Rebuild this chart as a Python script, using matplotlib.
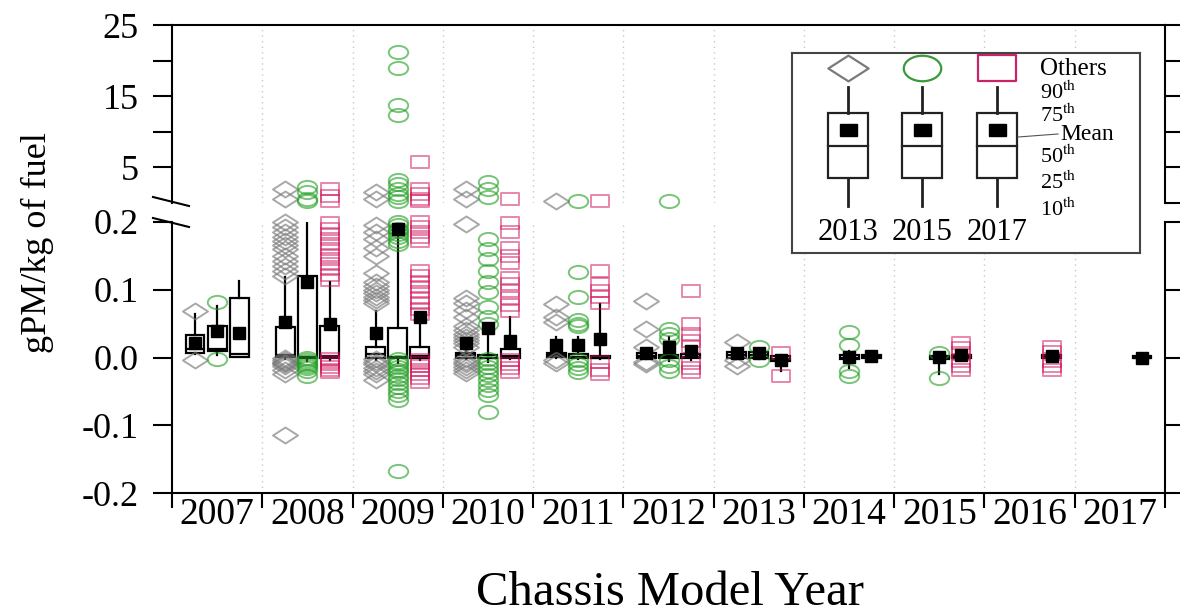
import numpy as np
import matplotlib
matplotlib.use('Agg')
import matplotlib.pyplot as plt
from matplotlib.path import Path
from matplotlib.transforms import Affine2D
from matplotlib.patches import Rectangle
from matplotlib.lines import Line2D

plt.rcParams['font.family'] = ['Liberation Serif', 'DejaVu Serif']
plt.rcParams['mathtext.fontset'] = 'stix'

# ---- data ----
years = [2007, 2008, 2009, 2010, 2011, 2012, 2013, 2014, 2015, 2016, 2017]

# test year 2013 (grey diamonds)
g13_mean = [0.022, 0.052, 0.036, 0.022, 0.019, 0.007, 0.007, None, None, None, None]
g13_p10 = [0.005, -0.002, -0.003, -0.002, 0.000, -0.002, -0.002, None, None, None, None]
g13_p25 = [0.006, 0.001, 0.000, 0.000, 0.001, 0.000, 0.000, None, None, None, None]
g13_p50 = [0.012, 0.003, 0.005, 0.003, 0.003, 0.002, 0.003, None, None, None, None]
g13_p75 = [0.033, 0.045, 0.015, 0.007, 0.007, 0.006, 0.008, None, None, None, None]
g13_p90 = [0.064, 0.119, 0.068, 0.020, 0.030, 0.012, 0.012, None, None, None, None]
g13_out = [
    [0.068, -0.003],
    [2.0, 0.6, 0.200, 0.192, 0.185, 0.178, 0.172, 0.166, 0.160, 0.150, 0.142, 0.135,
     0.128, 0.120, -0.001, -0.004, -0.006, -0.008, -0.010, -0.013, -0.018, -0.025, -0.114],
    [1.5, 0.5, 0.195, 0.185, 0.175, 0.162, 0.150, 0.125, 0.112, 0.105, 0.100, 0.095,
     0.090, 0.085, 0.080, -0.002, -0.006, -0.010, -0.015, -0.020, -0.025, -0.033],
    [1.9, 0.6, 0.197, 0.088, 0.080, 0.070, 0.060, 0.046, 0.040, 0.035, 0.030, 0.026,
     0.021, 0.016, -0.002, -0.006, -0.010, -0.014, -0.018, -0.023],
    [0.25, 0.079, 0.060, 0.052, -0.003, -0.008],
    [0.083, 0.042, 0.016, -0.006, -0.010],
    [0.023, -0.003, -0.013],
    [], [], [], [],
]

# test year 2015 (green circles)
g15_mean = [0.039, 0.111, 0.190, 0.044, 0.018, 0.016, 0.007, 0.001, 0.001, None, None]
g15_p10 = [0.004, -0.005, -0.008, -0.006, -0.002, -0.005, -0.002, -0.015, -0.025, None, None]
g15_p25 = [0.010, 0.000, 0.000, 0.000, 0.000, 0.000, 0.000, -0.002, -0.002, None, None]
g15_p50 = [0.012, 0.001, 0.001, 0.000, 0.001, 0.001, 0.003, 0.000, 0.000, None, None]
g15_p75 = [0.046, 0.120, 0.043, 0.003, 0.005, 0.004, 0.008, 0.003, 0.002, None, None]
g15_p90 = [0.076, 0.240, 0.185, 0.050, 0.030, 0.030, 0.012, 0.010, 0.005, None, None]
g15_out = [
    [0.082, -0.002],
    [2.3, 1.5, 0.6, 0.25, 0.000, -0.003, -0.006, -0.009, -0.012, -0.016, -0.020, -0.028],
    [21.2, 19.0, 13.8, 12.4, 3.3, 2.6, 1.9, 1.3, 0.8, 0.25, 0.200, 0.195, 0.190, 0.186,
     0.182, 0.178, 0.172, 0.168, -0.002, -0.006, -0.010, -0.014, -0.018, -0.022, -0.027,
     -0.032, -0.038, -0.044, -0.050, -0.056, -0.062, -0.168],
    [3.0, 1.9, 0.8, 0.175, 0.160, 0.146, 0.128, 0.111, 0.097, 0.074, 0.060, 0.049,
     -0.002, -0.008, -0.014, -0.020, -0.026, -0.033, -0.040, -0.048, -0.056, -0.080],
    [0.25, 0.126, 0.090, 0.056, 0.050, 0.046, -0.004, -0.010, -0.016, -0.022],
    [0.25, 0.042, 0.034, 0.027, -0.004, -0.012, -0.020],
    [0.016, -0.003],
    [0.037, 0.019, -0.020, -0.028],
    [0.007, -0.030],
    [], [],
]

# test year 2017 (red squares)
g17_mean = [0.036, 0.050, 0.060, 0.024, 0.027, 0.009, -0.003, 0.002, 0.003, 0.002, 0.000]
g17_p10 = [0.001, -0.003, -0.004, -0.002, -0.002, -0.003, -0.020, -0.001, -0.002, -0.002, -0.001]
g17_p25 = [0.001, 0.000, 0.000, 0.000, -0.001, -0.001, -0.005, -0.001, -0.001, -0.001, -0.001]
g17_p50 = [0.005, 0.002, 0.002, 0.002, 0.000, 0.001, -0.002, 0.001, 0.001, 0.001, 0.000]
g17_p75 = [0.088, 0.046, 0.015, 0.013, 0.002, 0.005, 0.002, 0.003, 0.003, 0.003, 0.002]
g17_p90 = [0.113, 0.111, 0.060, 0.060, 0.079, 0.015, 0.004, 0.004, 0.005, 0.004, 0.002]
g17_out = [
    [],
    [1.9, 1.0, 0.3, 0.198, 0.190, 0.182, 0.175, 0.168, 0.160, 0.152, 0.145, 0.138,
     0.130, 0.122, 0.115, -0.002, -0.006, -0.010, -0.014, -0.018, -0.021],
    [5.7, 2.0, 1.2, 0.6, 0.25, 0.200, 0.192, 0.185, 0.178, 0.172, 0.128, 0.120, 0.112,
     0.104, 0.096, 0.088, 0.080, 0.072, 0.064, -0.003, -0.008, -0.013, -0.018, -0.024,
     -0.030, -0.036],
    [0.5, 0.198, 0.185, 0.162, 0.150, 0.140, 0.118, 0.108, 0.098, 0.088, 0.078, 0.068,
     -0.004, -0.010, -0.016, -0.022],
    [0.25, 0.128, 0.108, 0.098, 0.090, 0.080, -0.006, -0.018, -0.025],
    [0.098, 0.049, 0.035, 0.025, 0.015, -0.008, -0.015, -0.022],
    [0.006, -0.028],
    [],
    [0.022, 0.014, 0.006, -0.005, -0.012, -0.018],
    [0.015, 0.008, -0.005, -0.012, -0.018],
    [],
]

# ---- marker shapes (flattened like the original) ----
diamond = Path([(0, 0.64), (1, 0), (0, -0.64), (-1, 0), (0, 0.64)],
               [Path.MOVETO, Path.LINETO, Path.LINETO, Path.LINETO, Path.CLOSEPOLY])
oval = Affine2D().scale(1, 0.68).transform_path(Path.unit_circle())
rect = Path([(-1, -0.67), (1, -0.67), (1, 0.67), (-1, 0.67), (-1, -0.67)],
            [Path.MOVETO, Path.LINETO, Path.LINETO, Path.LINETO, Path.CLOSEPOLY])

grey = '#7a7a7a'
green = '#1f9e1f'
red = '#d0105a'

series = [
    (-0.245, diamond, grey, 18, 0.65, g13_mean, g13_p10, g13_p25, g13_p50, g13_p75, g13_p90, g13_out),
    (0.0, oval, green, 14, 0.6, g15_mean, g15_p10, g15_p25, g15_p50, g15_p75, g15_p90, g15_out),
    (0.245, rect, red, 13, 0.5, g17_mean, g17_p10, g17_p25, g17_p50, g17_p75, g17_p90, g17_out),
]

W, H = 1180, 614
fig = plt.figure(figsize=(W / 100, H / 100), dpi=100)


def fx(px):
    return px / W


def fy(py):
    return 1 - py / H


L, R = 172, 1165
ax_hi = fig.add_axes([fx(L), fy(203), fx(R) - fx(L), fy(25) - fy(203)])
ax_lo = fig.add_axes([fx(L), fy(493), fx(R) - fx(L), fy(222) - fy(493)])

x = np.arange(len(years))
for ax in (ax_hi, ax_lo):
    ax.set_xlim(-0.5, 10.5)
    for b in np.arange(0.5, 10, 1):
        ax.axvline(b, color='#c8c8c8', lw=1, ls=(0, (1, 3)), zorder=0)
    for s in ax.spines.values():
        s.set_linewidth(1.5)

for off, mk, col, ms, al, mean, p10, p25, p50, p75, p90, outs in series:
    stats, pos, mx, my = [], [], [], []
    for i in range(len(years)):
        if mean[i] is None:
            continue
        stats.append(dict(med=p50[i], q1=p25[i], q3=p75[i], whislo=p10[i],
                          whishi=p90[i], fliers=[]))
        pos.append(x[i] + off)
        mx.append(x[i] + off)
        my.append(mean[i])
    ax_lo.bxp(stats, positions=pos, widths=0.21, showfliers=False, showcaps=False,
              patch_artist=True,
              boxprops=dict(facecolor='white', edgecolor='black', linewidth=1.6),
              whiskerprops=dict(color='black', linewidth=1.6),
              medianprops=dict(color='black', linewidth=1.6), zorder=2)
    ox_lo, oy_lo, ox_hi, oy_hi = [], [], [], []
    for i, vals in enumerate(outs):
        for v in vals:
            if v > 0.2:
                ox_hi.append(x[i] + off)
                oy_hi.append(v)
            else:
                ox_lo.append(x[i] + off)
                oy_lo.append(v)
    ax_lo.plot(ox_lo, oy_lo, ls='none', marker=mk, ms=ms, mfc='none', mec=col,
               mew=1.4, alpha=al, zorder=3, clip_on=False)
    ax_hi.plot(ox_hi, oy_hi, ls='none', marker=mk, ms=ms, mfc='none', mec=col,
               mew=1.4, alpha=al, zorder=3, clip_on=False)
    ax_lo.plot(mx, my, ls='none', marker='s', ms=8, mfc='black', mec='black', zorder=4)

# upper panel axes
ax_hi.set_ylim(0, 25)
ax_hi.set_yticks([0, 5, 10, 15, 20, 25])
ax_hi.set_yticklabels(['', '5', '', '15', '', '25'])
ax_hi.spines['bottom'].set_visible(False)
ax_hi.tick_params(axis='x', which='both', bottom=False, labelbottom=False)
ax_hi.tick_params(axis='y', direction='out', length=14, width=1.5, left=True,
                  right=True, labelsize=26, pad=10)
ax_hi.yaxis.get_major_ticks()[0].tick1line.set_visible(False)

# lower panel axes
ax_lo.set_ylim(-0.2, 0.2)
ax_lo.set_yticks([-0.2, -0.1, 0.0, 0.1, 0.2])
ax_lo.set_yticklabels(['-0.2', '-0.1', '0.0', '0.1', '0.2'])
ax_lo.spines['top'].set_visible(False)
ax_lo.tick_params(axis='y', direction='out', length=14, width=1.5, left=True,
                  right=True, labelsize=26, pad=10)
ax_lo.set_xticks(np.arange(-0.5, 11, 1))
ax_lo.set_xticklabels([])
ax_lo.set_xticks(x, minor=True)
ax_lo.set_xticklabels([str(y) for y in years], minor=True)
ax_lo.tick_params(axis='x', which='major', direction='out', length=11, width=1.5)
ax_lo.tick_params(axis='x', which='minor', length=0, labelsize=27, pad=3)

# axis break marks
for y0 in (197, 218):
    fig.add_artist(Line2D([fx(153), fx(189)], [fy(y0), fy(y0 + 9)], color='black', lw=1.5))

fig.text(fx(670), fy(605), 'Chassis Model Year', ha='center', va='baseline', fontsize=35)
fig.text(fx(37), fy(243), 'gPM/kg of fuel', rotation=90, ha='center', va='center',
         fontsize=26)

# ---- hand-made legend ----
leg = fig.add_axes([fx(792), fy(253), fx(1140) - fx(792), fy(53) - fy(253)], zorder=5)
leg.set_xlim(0, 348)
leg.set_ylim(200, 0)
leg.set_xticks([])
leg.set_yticks([])
leg.set_facecolor('white')
for s in leg.spines.values():
    s.set_linewidth(1.5)
    s.set_color('#444444')

leg_x = [56, 130, 205]
leg_mk = [(diamond, grey, 29), (oval, '#3a9a3a', 27), (rect, '#c8246a', 27)]
leg_years = ['2013', '2015', '2017']
for cx, (mk, col, ms), yr in zip(leg_x, leg_mk, leg_years):
    leg.plot(cx, 15, marker=mk, ms=ms, mfc='none', mec=col, mew=1.6, ls='none')
    leg.plot([cx, cx], [34, 60], color='#222222', lw=2)
    leg.plot([cx, cx], [125, 153], color='#222222', lw=2)
    leg.add_patch(Rectangle((cx - 20, 60), 40, 65, facecolor='white',
                            edgecolor='#222222', lw=1.6))
    leg.plot([cx - 20, cx + 20], [93, 93], color='#222222', lw=1.6)
    leg.add_patch(Rectangle((cx - 8.5, 71), 17, 12, facecolor='black', edgecolor='black'))
    leg.text(cx, 180, yr, ha='center', va='center', fontsize=22)

leg.text(248, 16, 'Others', ha='left', va='center', fontsize=18)
for lab, yy in [('90', 40), ('75', 63), ('50', 104), ('25', 130), ('10', 157)]:
    leg.text(248, yy, lab + r'$^{\mathrm{th}}$', ha='left', va='center', fontsize=16)
leg.text(268, 82, 'Mean', ha='left', va='center', fontsize=17)
leg.plot([226, 266], [84, 81], color='#555555', lw=0.8)

fig.savefig('out.png', dpi=100)
